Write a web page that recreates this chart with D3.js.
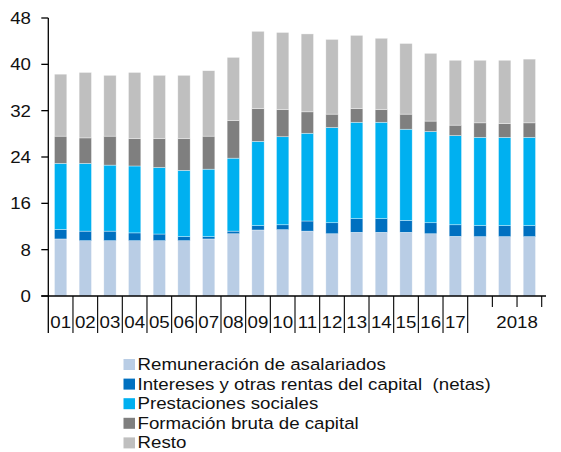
<!DOCTYPE html>
<html>
<head>
<meta charset="utf-8">
<script src="https://cdn.jsdelivr.net/npm/d3@7"></script>
<style>
	body { margin: 0; background: #fff; }
	svg text { font-family: "Liberation Sans", Arial, sans-serif; fill: #111; }
</style>
</head>
<body>
<div id="chart"></div>
<script>
// periods on the x axis: 2001-2017 yearly, then three 2018 points
var periods = ["01", "02", "03", "04", "05", "06", "07", "08", "09", "10", "11", "12", "13", "14", "15", "16", "17", "18a", "18b", "18c"];
var tick_labels = ["01", "02", "03", "04", "05", "06", "07", "08", "09", "10", "11", "12", "13", "14", "15", "16", "17", "", "", ""];
var group_label = "2018";

var remuneracion = [9.85, 9.55, 9.55, 9.55, 9.55, 9.55, 9.85, 10.75, 11.4, 11.45, 11.2, 10.75, 11.0, 11.0, 11.0, 10.75, 10.3, 10.25, 10.25, 10.25];
var intereses = [1.65, 1.65, 1.65, 1.35, 1.15, 0.7, 0.4, 0.45, 0.75, 0.85, 1.75, 1.9, 2.35, 2.35, 2.05, 1.9, 2.0, 1.9, 1.9, 1.9];
var prestaciones = [11.4, 11.7, 11.4, 11.55, 11.5, 11.45, 11.65, 12.6, 14.55, 15.2, 15.15, 16.45, 16.65, 16.65, 15.75, 15.75, 15.4, 15.25, 15.25, 15.25];
var formacion = [4.7, 4.4, 5.0, 4.75, 5.0, 5.5, 5.7, 6.5, 5.65, 4.7, 3.7, 2.3, 2.35, 2.2, 2.6, 1.8, 1.8, 2.5, 2.35, 2.5];
var resto = [10.7, 11.3, 10.5, 11.4, 10.9, 10.9, 11.3, 10.9, 13.35, 13.3, 13.45, 12.9, 12.65, 12.3, 12.2, 11.7, 11.2, 10.8, 10.95, 11.0];

var series_names = ["Remuneración de asalariados", "Intereses y otras rentas del capital  (netas)", "Prestaciones sociales", "Formación bruta de capital", "Resto"];
var series_colors = ["#B9CDE5", "#0070C0", "#00B0F0", "#7F7F7F", "#BFBFBF"];
var y_ticks = [0, 8, 16, 24, 32, 40, 48];

var graph_w = 561;
var graph_h = 452;
var x_stretch = 1.1; // the reference text is a little wider than plain Arial

var x_ax = d3.scaleBand()
	.domain(periods)
	.range([48.3, 541.7])
	.paddingInner(0.5)
	.paddingOuter(0.25);
var y_ax = d3.scaleLinear()
	.domain([0, 48])
	.range([296, 18]);

var rows = periods.map(function(p, i) {
	return {"period": p, "s0": remuneracion[i], "s1": intereses[i], "s2": prestaciones[i], "s3": formacion[i], "s4": resto[i]};
});
var stacked = d3.stack().keys(["s0", "s1", "s2", "s3", "s4"])(rows);

var svg_obj = d3.select("#chart").append("svg")
	.attr("width", graph_w)
	.attr("height", graph_h);

function stretched_text(sel, x, y) {
	return sel.append("text")
		.attr("transform", "translate(" + x + "," + y + ") scale(" + x_stretch + ",1)");
}

// bars
svg_obj.selectAll(".layer")
	.data(stacked)
	.enter()
		.append("g")
		.attr("class", "layer")
		.attr("fill", function(d, i) { return series_colors[i]; })
		.selectAll("rect")
		.data(function(d) { return d; })
		.enter()
			.append("rect")
			.attr("x", function(d) { return x_ax(d.data.period); })
			.attr("width", x_ax.bandwidth())
			.attr("y", function(d) { return y_ax(d[1]); })
			.attr("height", function(d) { return y_ax(d[0]) - y_ax(d[1]); })
			.attr("stroke", "#fff")
			.attr("stroke-opacity", 0.6)
			.attr("stroke-width", 0.6);

// y axis
var step = x_ax.step();
var x0 = 48.3;
svg_obj.append("line")
	.attr("x1", x0).attr("x2", x0)
	.attr("y1", y_ax(48)).attr("y2", 333)
	.attr("stroke", "#000").attr("stroke-width", 1.3);
y_ticks.forEach(function(t) {
	svg_obj.append("line")
		.attr("x1", x0 - 7).attr("x2", x0)
		.attr("y1", y_ax(t)).attr("y2", y_ax(t))
		.attr("stroke", "#000").attr("stroke-width", 1.3);
	stretched_text(svg_obj, 31, y_ax(t) + 6)
		.attr("text-anchor", "end")
		.attr("font-size", "17px")
		.text(t);
});

// x axis
svg_obj.append("line")
	.attr("x1", x0 - 7).attr("x2", 546)
	.attr("y1", y_ax(0)).attr("y2", y_ax(0))
	.attr("stroke", "#000").attr("stroke-width", 1.3);
for (var i = 1; i <= periods.length; i++) {
	var long_tick = i <= 17;
	svg_obj.append("line")
		.attr("x1", x0 + i * step).attr("x2", x0 + i * step)
		.attr("y1", y_ax(0)).attr("y2", long_tick ? 333 : 307)
		.attr("stroke", "#000").attr("stroke-width", 1.1);
}
periods.forEach(function(p, i) {
	if (tick_labels[i] == "") return;
	stretched_text(svg_obj, x_ax(p) + x_ax.bandwidth() / 2, 328)
		.attr("text-anchor", "middle")
		.attr("font-size", "17px")
		.text(tick_labels[i]);
});
var n = periods.length;
var group_x = (x_ax(periods[n - 2]) + x_ax(periods[n - 1])) / 2 + x_ax.bandwidth() / 2;
stretched_text(svg_obj, group_x, 328)
	.attr("text-anchor", "middle")
	.attr("font-size", "17px")
	.text(group_label);

// legend
series_names.forEach(function(name, i) {
	var base = 370 + i * 19.6;
	svg_obj.append("rect")
		.attr("x", 123.5).attr("y", base - 11)
		.attr("width", 11.5).attr("height", 11)
		.attr("fill", series_colors[i]);
	stretched_text(svg_obj, 137.5, base)
		.attr("font-size", "17px")
		.attr("xml:space", "preserve")
		.style("white-space", "pre")
		.text(name);
});
</script>
</body>
</html>
